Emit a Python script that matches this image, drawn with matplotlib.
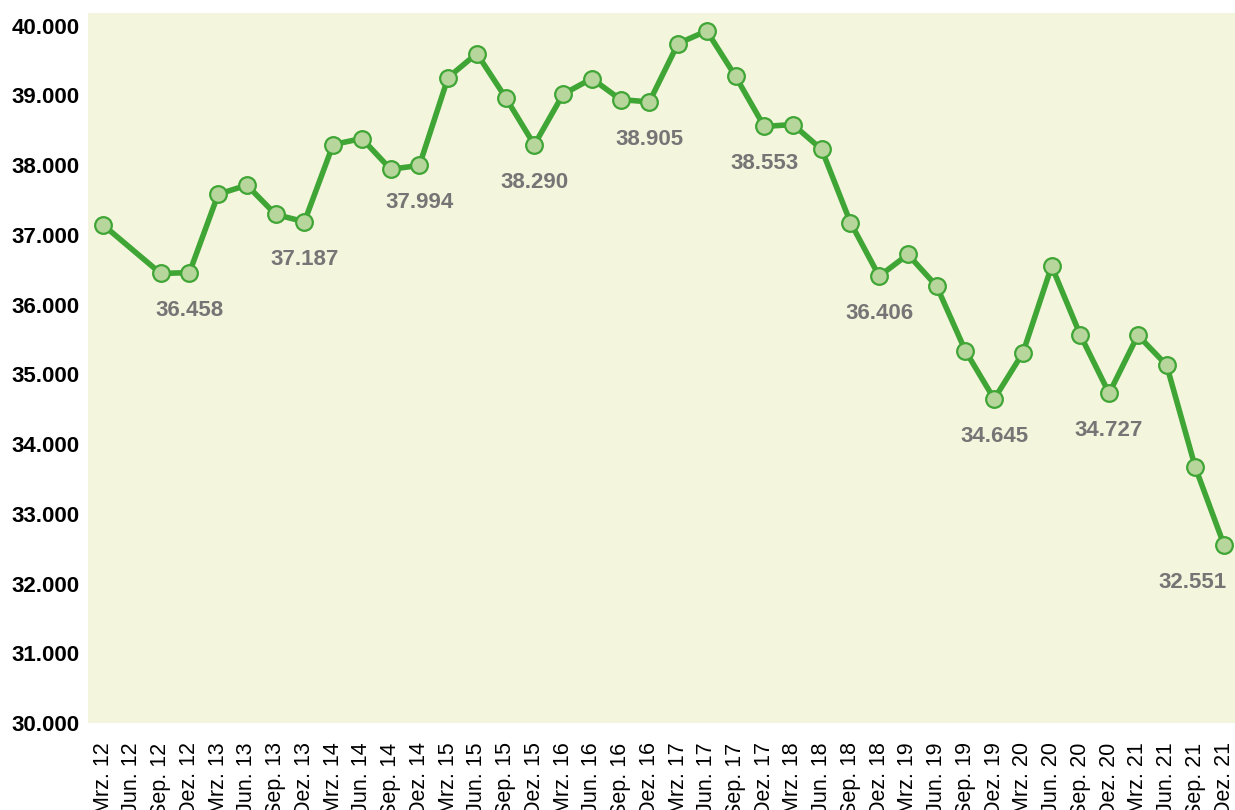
import numpy as np
import matplotlib.pyplot as plt

# Quartale Mrz. 12 bis Dez. 21 (Jun. 12 fehlt)
quartale = []
for jahr in range(12, 22):
    for monat in ['Mrz.', 'Jun.', 'Sep.', 'Dez.']:
        quartale.append(f'{monat} {jahr}')

werte = [37140, np.nan, 36445, 36458,
         37582, 37711, 37291, 37187,
         38294, 38380, 37940, 37994,
         39255, 39599, 38968, 38290,
         39015, 39240, 38939, 38905,
         39742, 39923, 39273, 38553,
         38581, 38223, 37176, 36406,
         36718, 36263, 35336, 34645,
         35307, 36550, 35561, 34727,
         35560, 35131, 33665, 32551]

# nur die Dezember-Werte werden beschriftet
beschriftet = [q for q in quartale if q.startswith('Dez.')]


def fmt_de(v):
    return f'{v:,.0f}'.replace(',', '.')


fig = plt.figure(figsize=(12.35, 8.10), dpi=100)
ax = fig.add_axes([88 / 1235, 87 / 810, 1147 / 1235, 710 / 810])
ax.set_facecolor('#f3f5dc')

x = np.arange(len(quartale))
y = np.array(werte, dtype=float)
ok = ~np.isnan(y)

ax.plot(x[ok], y[ok], color='#3fa535', linewidth=4, marker='o',
        markersize=12, markerfacecolor='#b6d69c', markeredgecolor='#3fa535',
        markeredgewidth=1.6, zorder=3)

for i, q in enumerate(quartale):
    if q in beschriftet and ok[i]:
        dx = -23 if i == len(quartale) - 1 else 0  # letzter Wert bleibt im Bild
        ax.annotate(fmt_de(y[i]), (x[i], y[i]), xytext=(dx, -27),
                    textcoords='offset points', ha='center', va='center',
                    fontsize=16, fontweight='bold', color='#757575',
                    family='Liberation Sans', zorder=4)

ax.set_xlim(-0.53, 39.38)
ax.set_ylim(30000, 40180)
ax.set_xticks(x)
ax.set_xticklabels(quartale, rotation=90, fontsize=15.5,
                   family='Liberation Sans', va='top', ha='center')
yt = np.arange(30000, 40001, 1000)
ax.set_yticks(yt)
ax.set_yticklabels([fmt_de(v) for v in yt], fontsize=16,
                   fontweight='bold', family='Liberation Sans')
ax.tick_params(axis='x', length=0, pad=14)
ax.tick_params(axis='y', length=0, pad=6)
for s in ax.spines.values():
    s.set_visible(False)

fig.savefig('out.png', dpi=100)
